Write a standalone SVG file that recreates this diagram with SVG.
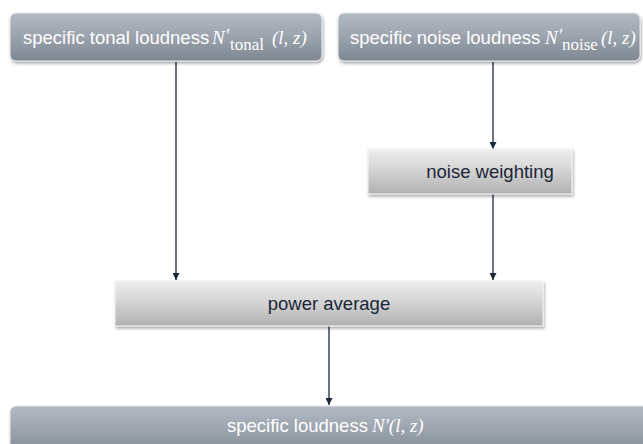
<svg xmlns="http://www.w3.org/2000/svg" width="643" height="444" viewBox="0 0 643 444">
<defs>
<linearGradient id="gTop" x1="0" y1="0" x2="0" y2="1">
<stop offset="0" stop-color="#b3bac3"/>
<stop offset="0.5" stop-color="#9aa2ac"/>
<stop offset="1" stop-color="#7e8792"/>
</linearGradient>
<linearGradient id="gMid" x1="0" y1="0" x2="0" y2="1">
<stop offset="0" stop-color="#eeeeee"/>
<stop offset="0.5" stop-color="#d2d2d2"/>
<stop offset="1" stop-color="#b0b0b0"/>
</linearGradient>
<filter id="sh" x="-5%" y="-20%" width="110%" height="150%">
<feGaussianBlur in="SourceAlpha" stdDeviation="1.5"/>
<feOffset dx="1" dy="2" result="b"/>
<feComponentTransfer><feFuncA type="linear" slope="0.35"/></feComponentTransfer>
<feMerge><feMergeNode/><feMergeNode in="SourceGraphic"/></feMerge>
</filter>
<marker id="arr" viewBox="0 0 10 10" refX="10" refY="5" markerWidth="7" markerHeight="7" markerUnits="userSpaceOnUse" orient="auto">
<path d="M0,0 L10,5 L0,10 z" fill="#1c2638"/>
</marker>
</defs>
<style>
.top{fill:url(#gTop);stroke:#e6eaf0;stroke-width:1;filter:url(#sh)}
.mid{fill:url(#gMid);stroke:#f4f4f4;stroke-width:1;filter:url(#sh)}
.tw{font-family:"Liberation Sans",Arial,sans-serif;font-size:18.5px;fill:#ffffff}
.td{font-family:"Liberation Sans",Arial,sans-serif;font-size:18.5px;fill:#1c2638}
.mi{font-family:"Liberation Serif","DejaVu Serif",serif;font-style:italic;font-size:19px;fill:#ffffff}
.ms{font-family:"Liberation Serif","DejaVu Serif",serif;font-size:17px;fill:#ffffff}
.conn{stroke:#1c2638;stroke-width:1.3;fill:none;marker-end:url(#arr)}
</style>
<rect width="643" height="444" fill="#ffffff"/>
<g id="connectors">
<line class="conn" x1="176" y1="62" x2="176" y2="280"/>
<line class="conn" x1="493" y1="62" x2="493" y2="149"/>
<line class="conn" x1="493" y1="194" x2="493" y2="280"/>
<line class="conn" x1="329" y1="326" x2="329" y2="405"/>
</g>
<g id="tonal">
<rect class="top" x="10" y="13" width="312" height="48" rx="6"/>
<text class="tw" x="23" y="44">specific tonal loudness</text>
<text class="mi" x="212" y="44">N</text>
<text class="mi" x="225" y="42" font-size="16">′</text>
<text class="ms" x="230" y="50">tonal</text>
<text class="mi" x="272" y="44">(l, z)</text>
</g>
<g id="noise">
<rect class="top" x="338" y="13" width="302" height="48" rx="6"/>
<text class="tw" x="350" y="44">specific noise loudness</text>
<text class="mi" x="545" y="44">N</text>
<text class="mi" x="558" y="42" font-size="16">′</text>
<text class="ms" x="562" y="50">noise</text>
<text class="mi" x="601" y="44">(l, z)</text>
</g>
<g id="weighting">
<rect class="mid" x="368" y="149" width="204" height="45"/>
<text class="td" x="490" y="178" text-anchor="middle">noise weighting</text>
</g>
<g id="power">
<rect class="mid" x="115" y="281" width="428" height="45"/>
<text class="td" x="329" y="310" text-anchor="middle">power average</text>
</g>
<g id="result">
<rect class="top" x="10" y="406" width="650" height="50" rx="6"/>
<text class="tw" x="227" y="432">specific loudness</text>
<text class="mi" x="372" y="432">N′(l, z)</text>
</g>
</svg>
